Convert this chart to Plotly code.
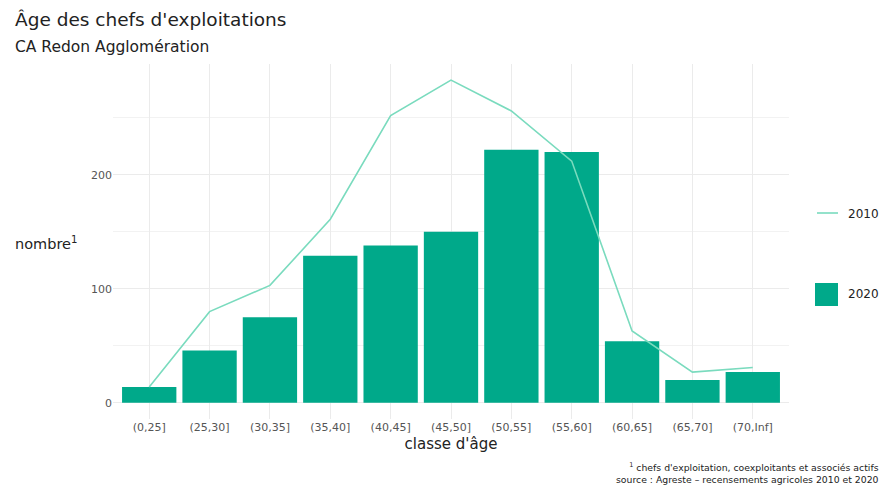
import plotly.graph_objects as go

# Classes d'âge des chefs d'exploitation
classes = ["(0,25]", "(25,30]", "(30,35]", "(35,40]", "(40,45]", "(45,50]",
           "(50,55]", "(55,60]", "(60,65]", "(65,70]", "(70,Inf]"]
nombre_2020 = [14, 46, 75, 129, 138, 150, 222, 220, 54, 20, 27]
nombre_2010 = [14, 80, 103, 161, 252, 283, 256, 212, 63, 27, 31]

y_ticks = [0, 100, 200]

FONT = "DejaVu Sans"
BAR_COLOR = "#00A98A"
LINE_COLOR = "#7ADBBE"
GRID = "#EBEBEB"
TEXT = "#222222"
TICK = "#555555"

fig = go.Figure()
fig.add_trace(go.Bar(x=classes, y=nombre_2020, name="2020",
                     marker=dict(color=BAR_COLOR, line=dict(width=0)),
                     showlegend=False))
fig.add_trace(go.Scatter(x=classes, y=nombre_2010, name="2010", mode="lines",
                         line=dict(color=LINE_COLOR, width=1.6),
                         showlegend=False))

ymax = max(max(nombre_2010), max(nombre_2020))
pad = 0.05 * ymax

fig.update_layout(
    width=886, height=486,
    margin=dict(l=113, r=97, t=64, b=67),
    paper_bgcolor="white", plot_bgcolor="white",
    font=dict(family=FONT, color=TEXT),
    bargap=0.1,
    xaxis=dict(
        type="category", range=[-0.6, len(classes) - 0.4],
        showgrid=True, gridcolor=GRID, gridwidth=1,
        showline=False, zeroline=False, ticks="",
        tickfont=dict(size=11, color=TICK),
        title=dict(text="classe d'âge", font=dict(size=15, color=TEXT), standoff=5),
    ),
    yaxis=dict(
        range=[-pad, ymax + pad],
        tickvals=y_ticks, showgrid=True, gridcolor=GRID, gridwidth=1,
        minor=dict(dtick=50, tick0=0, showgrid=True, gridcolor="#F2F2F2", gridwidth=1),
        showline=False, zeroline=False, ticks="",
        tickfont=dict(size=11, color=TICK),
    ),
)

annotations = [
    dict(text="Âge des chefs d'exploitations", x=13, y=20, font=dict(size=18.5, color=TEXT)),
    dict(text="CA Redon Agglomération", x=13, y=47, font=dict(size=15.5, color=TEXT)),
    dict(text="nombre<sup>1</sup>", x=13, y=243, font=dict(size=14.5, color=TEXT)),
    dict(text="2010", x=846, y=214, font=dict(size=12, color=TEXT)),
    dict(text="2020", x=846, y=294, font=dict(size=12, color=TEXT)),
]

# positions in pixels converted to paper coordinates
W, H = 886, 486
L, R, T, B = 113, 97, 64, 67
pw, ph = W - L - R, H - T - B


def px_to_paper(x, y):
    return (x - L) / pw, 1 - (y - T) / ph


for a in annotations:
    px, py = px_to_paper(a.pop("x"), a.pop("y"))
    fig.add_annotation(x=px, y=py, xref="paper", yref="paper",
                       xanchor="left", yanchor="middle", showarrow=False, **a)

footnote = ("<sup>1</sup> chefs d'exploitation, coexploitants et associés actifs<br>"
            "source : Agreste – recensements agricoles 2010 et 2020")
fx, fy = px_to_paper(881, 473)
fig.add_annotation(x=fx, y=fy, xref="paper", yref="paper", xanchor="right",
                   yanchor="middle", align="right", showarrow=False,
                   text=footnote, font=dict(size=9.3, color=TEXT))

# legend keys
x0, y0 = px_to_paper(817, 213)
x1, _ = px_to_paper(838, 213)
fig.add_shape(type="line", xref="paper", yref="paper", x0=x0, x1=x1, y0=y0, y1=y0,
              line=dict(color=LINE_COLOR, width=1.6))
sx0, sy0 = px_to_paper(815, 283)
sx1, sy1 = px_to_paper(838, 306)
fig.add_shape(type="rect", xref="paper", yref="paper", x0=sx0, x1=sx1, y0=sy1, y1=sy0,
              fillcolor=BAR_COLOR, line=dict(width=0))

fig.write_html("out.html")
